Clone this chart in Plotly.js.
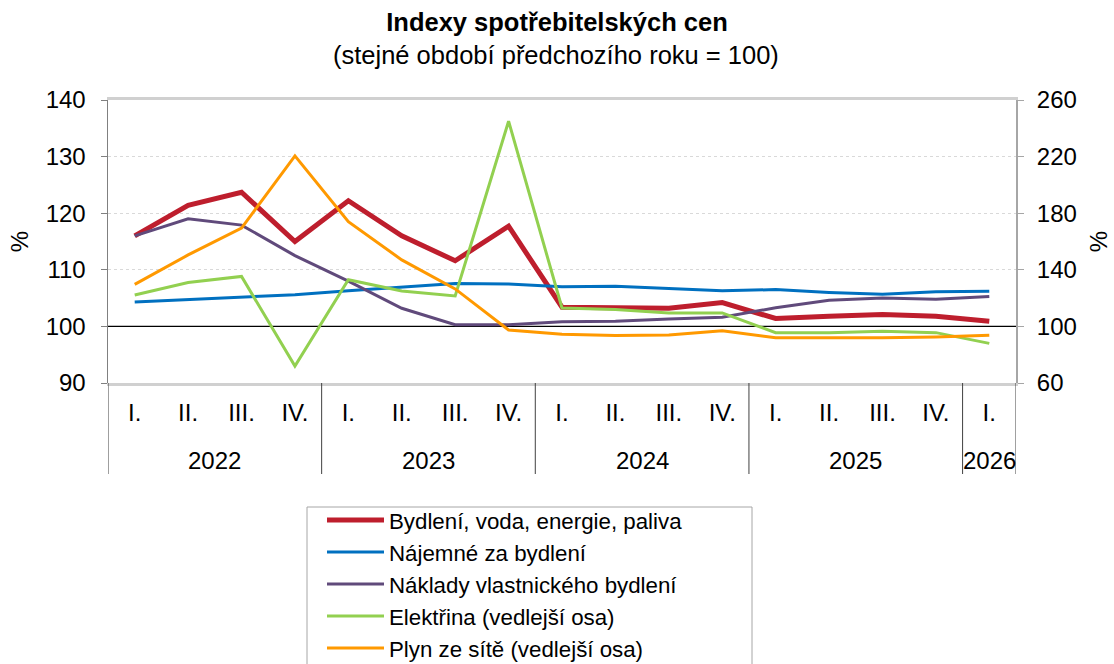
<!DOCTYPE html>
<html>
<head>
<meta charset="utf-8">
<script src="https://cdn.plot.ly/plotly-3.0.1.min.js"></script>
<style>html,body{margin:0;padding:0;background:#fff;}#chart{width:1114px;height:664px;}</style>
</head>
<body>
<div id="chart"></div>
<script>
const years = ['2022','2022','2022','2022','2023','2023','2023','2023','2024','2024','2024','2024','2025','2025','2025','2025','2026'];
const quarters = ['I.','II.','III.','IV.','I.','II.','III.','IV.','I.','II.','III.','IV.','I.','II.','III.','IV.','I.'];

const bydleni   = [116.0,121.4,123.7,115.0,122.2,116.0,111.6,117.7,103.4,103.2,103.2,104.2,101.4,101.8,102.1,101.8,100.9];
const najemne   = [104.3,104.7,105.1,105.6,106.3,107.0,107.6,107.5,107.0,107.1,106.7,106.3,106.5,106.0,105.7,106.1,106.2];
const naklady   = [116.0,119.0,117.9,112.5,108.0,103.2,100.3,100.3,100.8,100.9,101.3,101.6,103.3,104.6,105.0,104.8,105.3];
const elektrina = [122.2,131.0,135.3,72.0,133.0,125.0,121.5,245.0,113.0,112.0,109.5,109.5,95.5,95.5,96.5,95.6,88.0];
const plyn      = [129.7,150.5,169.5,220.5,174.0,147.0,126.5,97.5,94.5,93.5,94.0,97.0,92.0,91.8,92.0,92.5,93.8];

const names = ['Bydlení, voda, energie, paliva','Nájemné za bydlení','Náklady vlastnického bydlení','Elektřina (vedlejší osa)','Plyn ze sítě (vedlejší osa)'];
const colors = ['#be1e2d','#0070c0','#604a7b','#92d050','#ff9900'];
const widths = [5,3,3,3,3];
const series = [bydleni, najemne, naklady, elektrina, plyn];
const axes = ['y','y','y','y2','y2'];

// category positions (index of each period)
const idx = quarters.map((q,i)=>i);

const traces = series.map((s,i)=>({
  type:'scatter', mode:'lines', x:idx, y:s, name:names[i], yaxis:axes[i],
  legendgroup:'g'+i,
  line:{color:colors[i], width:widths[i]}, hoverinfo:'skip'
}));

const font = {family:'Liberation Sans, Arial, sans-serif', color:'#000'};
const F = (s)=>Object.assign({size:s}, font);

// year group labels and dividers derived from the years array
const uniqYears = [...new Set(years)];
const yearAnn = uniqYears.map(y=>{
  const ii = idx.filter(i=>years[i]===y);
  return {text:y, xref:'x', yref:'paper', x:(ii[0]+ii[ii.length-1])/2, y:-(460-383)/283,
          xanchor:'center', yanchor:'middle', showarrow:false, font:F(24)};
});
const bounds = [-0.5];
uniqYears.forEach(y=>{ const ii = idx.filter(i=>years[i]===y); bounds.push(ii[ii.length-1]+0.5); });
const dividers = bounds.map(b=>({type:'line', xref:'x', yref:'paper', x0:b, x1:b, y0:0, y1:-(474-383)/283,
  line:{color:'#404040', width:1}, layer:'above'}));

const layout = {
  width:1114, height:664,
  margin:{l:108, r:98, t:100, b:281, autoexpand:false},
  paper_bgcolor:'#fff', plot_bgcolor:'#fff',
  font:F(24),
  title:{text:'<b>Indexy spotřebitelských cen</b>', x:0.5, xref:'container', xanchor:'center', y:1-22/664, yanchor:'middle', font:F(25.5)},
  annotations:[{text:'(stejné období předchozího roku = 100)', xref:'paper', yref:'paper', x:(556-108)/908, y:1.0+(100-55)/283, xanchor:'center', yanchor:'middle', showarrow:false, font:F(25.5)}].concat(yearAnn),
  xaxis:{
    range:[-0.5,16.5], tickvals:idx, ticktext:quarters, tickmode:'array',
    showline:true, linecolor:'#d0d0d0', linewidth:3, mirror:true,
    ticks:'', showgrid:false, zeroline:false, ticklabelstandoff:6,
    tickfont:F(24)
  },
  yaxis:{
    range:[90,140], dtick:10, tick0:90,
    showline:true, linecolor:'#808080', linewidth:1.5,
    ticks:'outside', ticklen:6, tickcolor:'#808080',
    showgrid:true, gridcolor:'#d9d9d9', griddash:'dot', gridwidth:1,
    zeroline:false, ticklabelstandoff:10,
    title:{text:'%', font:F(24), standoff:10},
    tickfont:F(24)
  },
  yaxis2:{
    range:[60,260], dtick:40, tick0:60, overlaying:'y', side:'right',
    showline:true, linecolor:'#a6a6a6', linewidth:2,
    ticks:'outside', ticklen:6, tickcolor:'#a6a6a6',
    showgrid:false, zeroline:false, ticklabelstandoff:8,
    title:{text:'%', font:F(24), standoff:14},
    tickfont:F(24)
  },
  shapes:[{type:'line', xref:'x', x0:-0.5, x1:16.5, yref:'y', y0:100, y1:100, line:{color:'#000', width:1.3}, layer:'between'},
          {type:'rect', xref:'paper', yref:'paper', x0:(307-108)/908, x1:(752-108)/908, y0:-(507-383)/283, y1:-(700-383)/283,
           line:{color:'#a6a6a6', width:1}, fillcolor:'rgba(0,0,0,0)', layer:'below'}].concat(dividers),
  showlegend:true,
  legend:{
    x:(322-108)/908, xanchor:'left', y:-(499-383)/283, yanchor:'top',
    borderwidth:0, bgcolor:'rgba(0,0,0,0)',
    font:F(22.3),
    traceorder:'grouped', tracegroupgap:0, itemwidth:57
  }
};

Plotly.newPlot('chart', traces, layout, {displayModeBar:false, staticPlot:true});
</script>
</body>
</html>
